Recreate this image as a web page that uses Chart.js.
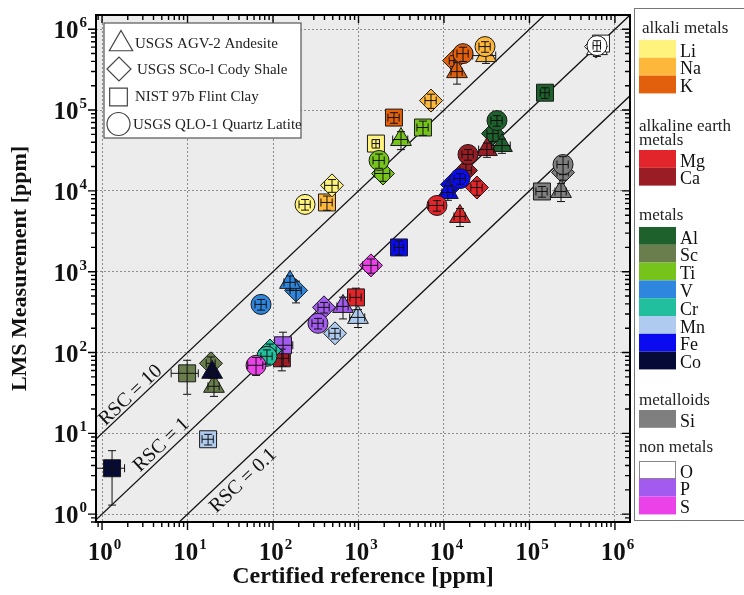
<!DOCTYPE html>
<html>
<head>
<meta charset="utf-8">
<script src="https://cdn.jsdelivr.net/npm/chart.js@4.4.0/dist/chart.umd.min.js"></script>
<style>
  html, body { margin: 0; padding: 0; background: #fff; }
  #wrap { width: 744px; height: 595px; position: relative; }
</style>
</head>
<body>
<div id="wrap"><canvas id="rscChart"></canvas></div>
<script>
// axis ranges (log-log)
const xMin = 0.85, xMax = 1.5e6;
const yMin = 0.8, yMax = 1.5e6;
const decadeTicks = [1, 10, 100, 1e3, 1e4, 1e5, 1e6];
const decadeExps = ['0', '1', '2', '3', '4', '5', '6'];
const rscRatios = [10, 1, 0.1];
const rscLabels = ['RSC = 10', 'RSC = 1', 'RSC = 0.1'];

// element colours
const elemNames = ['Li', 'Na', 'K', 'Mg', 'Ca', 'Al', 'Sc', 'Ti', 'V', 'Cr', 'Mn', 'Fe', 'Co', 'Si', 'O', 'P', 'S'];
const elemColors = ['#fff27d', '#fdb73b', '#e25f0b', '#e2252b', '#9a1c24', '#1e612d', '#6a7e4d', '#76c41b', '#2e86de',
  '#21bf9e', '#b0cbf0', '#0b0bf2', '#050a36', '#7f7f7f', '#ffffff', '#a35aee', '#ea42e8'];
const groupTitles = [['alkali metals'], ['alkaline earth', 'metals'], ['metals'], ['metalloids'], ['non metals']];
const groupElems = [['Li', 'Na', 'K'], ['Mg', 'Ca'], ['Al', 'Sc', 'Ti', 'V', 'Cr', 'Mn', 'Fe', 'Co'], ['Si'], ['O', 'P', 'S']];

// USGS AGV-2 Andesite (triangles)
const agvElem = ['Na', 'K', 'Ti', 'Al', 'Sc', 'V', 'Mn', 'Fe', 'Co', 'Mg', 'Ca', 'Si', 'O', 'P'];
const agvCert = [31000, 14200, 3140, 47700, 20.4, 158, 986, 11100, 19.4, 15400, 31800, 234000, 616000, 659];
const agvMeas = [472000, 299000, 43200, 36400, 38.2, 738, 272, 9550, 56.9, 4830, 32500, 9830, 576000, 372];
const agvXErr = [30, 15, 20, 25, 15, 15, 20, 15, 10, 15, 20, 15, 10, 15];
const agvYErr = [20, 30, 25, 20, 25, 20, 25, 20, 15, 25, 20, 25, 20, 30];

// USGS SCo-1 Cody Shale (diamonds)
const scoElem = ['Li', 'Na', 'K', 'Ti', 'Al', 'Sc', 'V', 'Cr', 'Mn', 'Fe', 'Mg', 'Ca', 'Si', 'O', 'P', 'S'];
const scoCert = [490, 7050, 13100, 1935, 37400, 18.8, 186, 92.2, 531, 12400, 24300, 18100, 247000, 600000, 395, 1400];
const scoMeas = [11700, 131000, 409000, 16400, 51200, 73.5, 587, 106, 173, 12000, 11000, 17900, 16900, 610000, 362, 1197];
const scoXErr = [18, 15, 12, 20, 15, 12, 15, 18, 15, 12, 15, 15, 15, 10, 15, 20];
const scoYErr = [18, 20, 15, 20, 20, 20, 30, 20, 15, 15, 20, 20, 20, 15, 15, 20];

// NIST 97b Flint Clay (squares)
const nistElem = ['Li', 'Na', 'K', 'Ti', 'Al', 'Sc', 'Mn', 'Fe', 'Co', 'Mg', 'Ca', 'Si', 'O', 'P'];
const nistCert = [1600, 428, 2600, 5680, 152000, 9.9, 17.4, 2980, 1.31, 935, 127, 140000, 686000, 131];
const nistMeas = [38500, 7190, 80700, 60800, 164000, 55.3, 8.45, 1996, 3.7, 481, 84.8, 9830, 664000, 123];
const nistXErr = [10, 15, 15, 15, 12, 35, 15, 12, 40, 15, 20, 15, 10, 30];
const nistYErr = [12, 20, 15, 20, 15, 45, 15, 20, 65, 30, 30, 15, 15, 45];

// USGS QLO-1 Quartz Latite (circles)
const qloElem = ['Li', 'Na', 'K', 'Ti', 'Al', 'V', 'Cr', 'Fe', 'Mg', 'Ca', 'Si', 'O', 'P', 'S'];
const qloCert = [237, 30200, 16700, 1740, 41700, 72.4, 85, 15400, 8280, 19100, 247000, 616000, 336, 63.3];
const qloMeas = [6800, 610000, 499000, 23800, 74200, 394, 89.8, 14200, 6600, 28200, 21200, 627000, 230, 69.5];
const qloXErr = [15, 15, 15, 15, 15, 15, 15, 15, 20, 15, 15, 10, 15, 20];
const qloYErr = [15, 15, 20, 20, 15, 15, 20, 15, 15, 15, 25, 15, 15, 25];

const SERIF = "'Liberation Serif', 'Times New Roman', serif";
const colorOf = e => elemColors[elemNames.indexOf(e)];

function sampleDataset(label, style, radius, order, elem, cert, meas, xErr, yErr) {
  return {
    label: label,
    data: cert.map((c, i) => ({ x: c, y: meas[i] })),
    pointStyle: style,
    pointRadius: radius,
    pointHoverRadius: radius,
    pointBackgroundColor: elem.map(colorOf),
    pointBorderColor: '#1a1a1a',
    pointBorderWidth: 1,
    showLine: false,
    order: order,
    xErr: xErr,
    yErr: yErr
  };
}

const samples = [
  sampleDataset('USGS AGV-2 Andesite', 'triangle', 12, 2, agvElem, agvCert, agvMeas, agvXErr, agvYErr),
  sampleDataset('USGS SCo-l Cody Shale', 'rectRot', 11.5, 3, scoElem, scoCert, scoMeas, scoXErr, scoYErr),
  sampleDataset('NIST 97b Flint Clay', 'rect', 12, 4, nistElem, nistCert, nistMeas, nistXErr, nistYErr),
  sampleDataset('USGS QLO-1 Quartz Latite', 'circle', 10, 1, qloElem, qloCert, qloMeas, qloXErr, qloYErr)
];

const rscLines = rscRatios.map(r => ({
  label: 'RSC ' + r,
  data: [{ x: xMin, y: r * xMin }, { x: xMax, y: r * xMax }],
  showLine: true,
  borderColor: '#111',
  borderWidth: 1.3,
  pointRadius: 0,
  order: 10
}));

// error bars, drawn right after each sample so later markers cover them
const errorBars = {
  id: 'errorBars',
  afterDatasetDraw(chart, args) {
    const ds = chart.data.datasets[args.index];
    if (!ds.xErr) return;
    const { ctx, chartArea: a, scales: { x, y } } = chart;
    ctx.save();
    ctx.beginPath();
    ctx.rect(a.left, a.top, a.right - a.left, a.bottom - a.top);
    ctx.clip();
    ctx.strokeStyle = '#111';
    ctx.lineWidth = 1;
    ds.data.forEach((p, i) => {
      const px = x.getPixelForValue(p.x), py = y.getPixelForValue(p.y);
      const x0 = x.getPixelForValue(p.x * (1 - ds.xErr[i] / 100));
      const x1 = x.getPixelForValue(p.x * (1 + ds.xErr[i] / 100));
      const y0 = y.getPixelForValue(p.y * (1 - ds.yErr[i] / 100));
      const y1 = y.getPixelForValue(p.y * (1 + ds.yErr[i] / 100));
      ctx.beginPath();
      ctx.moveTo(x0, py); ctx.lineTo(x1, py);
      ctx.moveTo(x0, py - 4); ctx.lineTo(x0, py + 4);
      ctx.moveTo(x1, py - 4); ctx.lineTo(x1, py + 4);
      ctx.moveTo(px, y0); ctx.lineTo(px, y1);
      ctx.moveTo(px - 4, y0); ctx.lineTo(px + 4, y0);
      ctx.moveTo(px - 4, y1); ctx.lineTo(px + 4, y1);
      ctx.stroke();
    });
    ctx.restore();
  }
};

function minorValues(lo, hi) {
  const out = [];
  for (let n = -1; n <= 6; n++) {
    for (let m = 1; m <= 9; m++) {
      const v = m * Math.pow(10, n);
      if (v >= lo && v <= hi) out.push({ v: v, major: m === 1 });
    }
  }
  return out;
}

function powerLabel(ctx, exp, x, y, align) {
  ctx.font = 'bold 25px ' + SERIF;
  const wBase = ctx.measureText('10').width;
  ctx.font = 'bold 15px ' + SERIF;
  const wExp = ctx.measureText(exp).width;
  const start = align === 'right' ? x - wBase - wExp - 1 : x - (wBase + wExp) / 2 + 2;
  ctx.textAlign = 'left';
  ctx.textBaseline = 'alphabetic';
  ctx.font = 'bold 25px ' + SERIF;
  ctx.fillText('10', start, y);
  ctx.font = 'bold 15px ' + SERIF;
  ctx.fillText(exp, start + wBase + 1, y - 11);
}

const frame = {
  id: 'frame',
  beforeDraw(chart) {
    const { ctx, chartArea: a } = chart;
    ctx.save();
    ctx.fillStyle = '#ececec';
    ctx.fillRect(a.left, a.top, a.right - a.left, a.bottom - a.top);
    ctx.restore();
  },
  afterDraw(chart) {
    const { ctx, chartArea: a, scales: { x, y } } = chart;
    ctx.save();

    // RSC labels along the lines
    ctx.fillStyle = '#111';
    ctx.font = '20px ' + SERIF;
    ctx.textAlign = 'center';
    ctx.textBaseline = 'middle';
    const rscAnchor = [2.5, 5.9, 34.6];
    const rscOffset = [8, 9.5, -14];
    rscRatios.forEach((r, i) => {
      const xv = rscAnchor[i];
      const p1x = x.getPixelForValue(xv), p1y = y.getPixelForValue(r * xv);
      const p2x = x.getPixelForValue(xv * 10), p2y = y.getPixelForValue(r * xv * 10);
      const ang = Math.atan2(p2y - p1y, p2x - p1x);
      const d = rscOffset[i];
      ctx.save();
      ctx.translate(p1x + d * Math.sin(ang), p1y - d * Math.cos(ang));
      ctx.rotate(ang);
      ctx.fillText(rscLabels[i], 0, 0);
      ctx.restore();
    });

    // frame
    ctx.strokeStyle = '#000';
    ctx.lineWidth = 2;
    ctx.strokeRect(a.left, a.top, a.right - a.left, a.bottom - a.top);

    // ticks: outside on left/bottom, inside on top/right
    ctx.lineWidth = 1.4;
    ctx.beginPath();
    minorValues(xMin, xMax).forEach(t => {
      const px = x.getPixelForValue(t.v);
      const len = t.major ? 8 : 5;
      ctx.moveTo(px, a.bottom); ctx.lineTo(px, a.bottom + len);
      ctx.moveTo(px, a.top); ctx.lineTo(px, a.top + len);
    });
    minorValues(yMin, yMax).forEach(t => {
      const py = y.getPixelForValue(t.v);
      const len = t.major ? 8 : 5;
      ctx.moveTo(a.left - len, py); ctx.lineTo(a.left, py);
      ctx.moveTo(a.right - len, py); ctx.lineTo(a.right, py);
    });
    ctx.stroke();

    // tick labels
    ctx.fillStyle = '#111';
    decadeTicks.forEach((v, i) => {
      powerLabel(ctx, decadeExps[i], a.left - 9, y.getPixelForValue(v) + 9, 'right');
      powerLabel(ctx, decadeExps[i], x.getPixelForValue(v), 560, 'center');
    });

    // sample legend (top left, inside plot)
    ctx.fillStyle = '#fff';
    ctx.fillRect(104, 23, 197, 115);
    ctx.strokeStyle = '#555';
    ctx.lineWidth = 1.2;
    ctx.strokeRect(104, 23, 197, 115);
    const legShape = [[121, 44, 13.5], [119, 69, 12], [118.5, 97, 12.5], [118.5, 124, 11.5]];
    const legText = [[135, 48], [137, 74], [135, 101], [133, 129]];
    samples.forEach((ds, i) => {
      ctx.fillStyle = '#fff';
      ctx.strokeStyle = '#444';
      Chart.helpers.drawPoint(ctx, { pointStyle: ds.pointStyle, rotation: 0, radius: legShape[i][2], borderWidth: 1.2 },
        legShape[i][0], legShape[i][1]);
      ctx.fillStyle = '#222';
      ctx.font = '15px ' + SERIF;
      ctx.textAlign = 'left';
      ctx.textBaseline = 'alphabetic';
      ctx.fillText(ds.label, legText[i][0], legText[i][1]);
    });

    // element legend panel (right)
    ctx.strokeStyle = '#777';
    ctx.lineWidth = 1;
    ctx.strokeRect(634.5, 8.5, 120, 512);
    const headBase = [33, 131, 220, 405, 452];
    const swTop = [40, 150, 227, 410, 461];
    groupTitles.forEach((lines, g) => {
      ctx.fillStyle = '#222';
      ctx.font = '17px ' + SERIF;
      ctx.textAlign = 'left';
      lines.forEach((t, k) => ctx.fillText(t, g === 0 ? 642 : 639, headBase[g] + k * 13.5));
      groupElems[g].forEach((e, k) => {
        const top = swTop[g] + k * 17.8;
        ctx.fillStyle = colorOf(e);
        ctx.fillRect(639, top, 37, 17.8);
        if (e === 'O') {
          ctx.strokeStyle = '#888';
          ctx.strokeRect(639.5, top + 0.5, 36, 17);
        }
        ctx.fillStyle = '#111';
        ctx.font = '18px ' + SERIF;
        ctx.fillText(e, 680, top + 16.5);
      });
    });
    ctx.restore();
  }
};

const ctx = document.getElementById('rscChart').getContext('2d');
const rscChart = new Chart(ctx, {
  type: 'scatter',
  data: { datasets: [...rscLines, ...samples] },
  options: {
    responsive: true,
    maintainAspectRatio: false,
    animation: false,
    devicePixelRatio: 1,
    layout: { padding: { left: 0, right: 114, top: 15, bottom: 0 } },
    plugins: {
      legend: { display: false },
      tooltip: { enabled: false }
    },
    scales: {
      x: {
        type: 'logarithmic',
        min: xMin,
        max: xMax,
        afterBuildTicks: scale => { scale.ticks = decadeTicks.map(v => ({ value: v })); },
        afterFit: scale => { scale.height = 73; },
        ticks: { display: false, autoSkip: false },
        grid: { color: '#8c8c8c', lineWidth: 1, drawTicks: false },
        border: { display: false, dash: [2, 2] },
        title: {
          display: true,
          text: 'Certified reference [ppm]',
          color: '#111',
          font: { family: SERIF, size: 24, weight: 'bold' },
          padding: { top: 0, bottom: 4 }
        }
      },
      y: {
        type: 'logarithmic',
        min: yMin,
        max: yMax,
        afterBuildTicks: scale => { scale.ticks = decadeTicks.map(v => ({ value: v })); },
        afterFit: scale => { scale.width = 96; },
        ticks: { display: false, autoSkip: false },
        grid: { color: '#8c8c8c', lineWidth: 1, drawTicks: false },
        border: { display: false, dash: [2, 2] },
        title: {
          display: true,
          text: 'LMS Measurement [ppm]',
          color: '#111',
          font: { family: SERIF, size: 22, weight: 'bold' },
          padding: { top: 7, bottom: 0 }
        }
      }
    }
  },
  plugins: [errorBars, frame]
});
</script>
</body>
</html>
